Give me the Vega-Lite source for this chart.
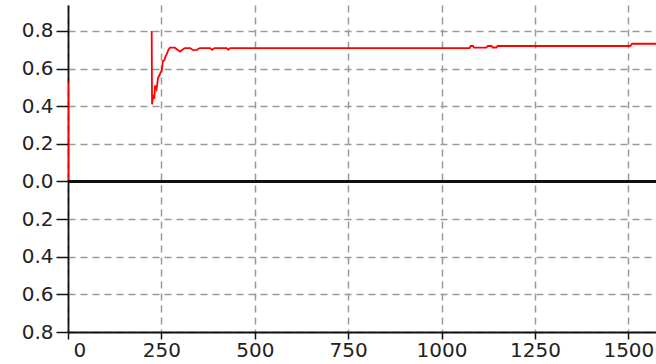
{
  "$schema": "https://vega.github.io/schema/vega-lite/v6.json",
  "autosize": "none",
  "width": 588,
  "height": 327,
  "padding": {"left": 68, "top": 5, "right": 0, "bottom": 32},
  "background": "white",
  "config": {
    "view": {"stroke": null},
    "axis": {
      "labelFont": "DejaVu Sans",
      "labelFontSize": 20,
      "labelColor": "#222222",
      "domainColor": "#111111",
      "domainWidth": 1.8,
      "tickColor": "#111111",
      "tickWidth": 1.5,
      "gridColor": "#9a9a9a",
      "gridDash": [7, 5],
      "gridWidth": 1.5,
      "title": null
    }
  },
  "data": {
    "values": [
      {"t": 0, "v": 0},
      {"t": 0, "v": 0.53},
      {"t": 2, "v": null},
      {"t": 224, "v": 0.8},
      {"t": 225, "v": 0.41},
      {"t": 228, "v": 0.46},
      {"t": 231, "v": 0.44},
      {"t": 233, "v": 0.51},
      {"t": 237, "v": 0.49},
      {"t": 241, "v": 0.55},
      {"t": 246, "v": 0.57},
      {"t": 251, "v": 0.59},
      {"t": 254, "v": 0.64},
      {"t": 258, "v": 0.645},
      {"t": 260, "v": 0.66},
      {"t": 264, "v": 0.675},
      {"t": 269, "v": 0.7},
      {"t": 273, "v": 0.711},
      {"t": 286, "v": 0.711},
      {"t": 293, "v": 0.7},
      {"t": 300, "v": 0.69},
      {"t": 306, "v": 0.7},
      {"t": 313, "v": 0.709},
      {"t": 327, "v": 0.709},
      {"t": 335, "v": 0.698},
      {"t": 345, "v": 0.7},
      {"t": 353, "v": 0.709},
      {"t": 380, "v": 0.709},
      {"t": 386, "v": 0.7},
      {"t": 392, "v": 0.709},
      {"t": 425, "v": 0.709},
      {"t": 429, "v": 0.7},
      {"t": 434, "v": 0.709},
      {"t": 1075, "v": 0.709},
      {"t": 1078, "v": 0.72},
      {"t": 1084, "v": 0.72},
      {"t": 1087, "v": 0.711},
      {"t": 1120, "v": 0.711},
      {"t": 1124, "v": 0.72},
      {"t": 1134, "v": 0.72},
      {"t": 1137, "v": 0.712},
      {"t": 1147, "v": 0.712},
      {"t": 1150, "v": 0.72},
      {"t": 1505, "v": 0.72},
      {"t": 1510, "v": 0.732},
      {"t": 1574, "v": 0.732}
    ]
  },
  "layer": [
    {
      "mark": {"type": "line", "color": "#ff0000", "strokeWidth": 1.8, "clip": true},
      "encoding": {
        "x": {
          "field": "t",
          "type": "quantitative",
          "scale": {"domain": [0, 1574], "nice": false, "zero": false},
          "axis": {
            "values": [0, 250, 500, 750, 1000, 1250, 1500],
            "format": "d",
            "tickSize": 7,
            "labelPadding": 1,
            "labelFlush": 3,
            "labelFlushOffset": -5,
            "grid": true
          }
        },
        "y": {
          "field": "v",
          "type": "quantitative",
          "scale": {"domain": [-0.8, 0.938], "nice": false, "zero": false},
          "axis": {
            "values": [-0.8, -0.6, -0.4, -0.2, 0, 0.2, 0.4, 0.6, 0.8],
            "labelExpr": "format(abs(datum.value), '.1f')",
            "tickSize": 12,
            "labelPadding": 3,
            "grid": true
          }
        }
      }
    },
    {
      "mark": {"type": "rule", "color": "#111111", "strokeWidth": 1.8},
      "encoding": {"y": {"datum": 0}}
    }
  ]
}
